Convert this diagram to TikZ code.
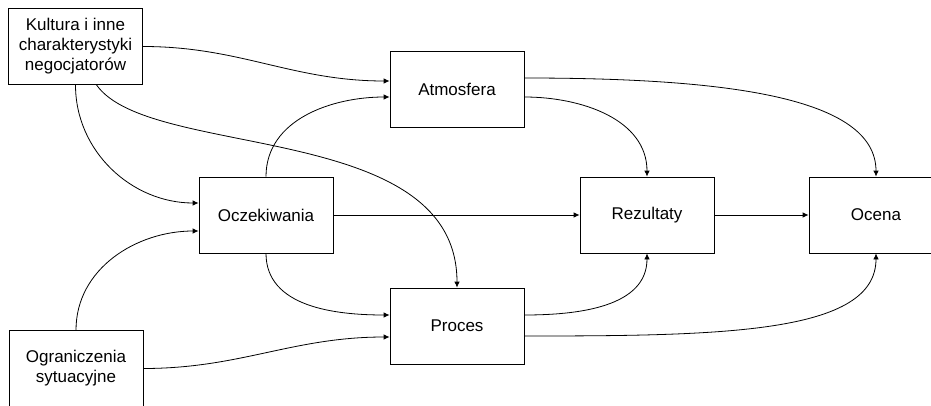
\documentclass[tikz,border=0pt]{standalone}
\usepackage{fontspec}
\setmainfont{Liberation Sans}
\usetikzlibrary{arrows.meta}

\begin{document}
\begin{tikzpicture}[x=1pt,y=1pt,>={Latex[length=6pt,width=5.5pt]},
    factor/.style={draw,line width=0.8pt,minimum width=134pt,minimum height=76pt,
      align=center,inner sep=2pt,font=\fontsize{17}{20}\selectfont},
    link/.style={->,line width=0.8pt}]
  \useasboundingbox (0,0) rectangle (931,405);
  % the seven factors
  \node[factor] (kult) at (75.5,358.5) {Kultura i inne\\charakterystyki\\negocjatorów};
  \node[factor] (ogr)  at (76,36.5)    {Ograniczenia\\sytuacyjne};
  \node[factor] (ocz)  at (266,190)    {Oczekiwania};
  \node[factor] (atm)  at (457,316)    {Atmosfera};
  \node[factor] (proc) at (457,79)     {Proces};
  \node[factor] (rez)  at (647,190)    {Rezultaty};
  \node[factor] (oc)   at (876,190)    {Ocena};
  % influences of the negotiators' culture
  \draw[link] (kult.east) to[out=0,in=180] ([yshift=8pt]atm.west);
  \draw[link] (kult.south) to[out=-90,in=180] ([yshift=12pt]ocz.west);
  \draw[link] ([xshift=21pt]kult.south) to[out=-55,in=90,out distance=92pt,in distance=168pt] (proc.north);
  % situational constraints
  \draw[link] (ogr.north) to[out=90,in=180] ([yshift=-16pt]ocz.west);
  \draw[link] (ogr.east) to[out=0,in=180] ([yshift=-11pt]proc.west);
  % expectations
  \draw[link] (ocz.north) to[out=90,in=180] ([yshift=-8pt]atm.west);
  \draw[link] (ocz.south) to[out=-90,in=180] ([yshift=11pt]proc.west);
  \draw[link] (ocz.east) -- (rez.west);
  % atmosphere and process lead to results and evaluation
  \draw[link] ([yshift=-8pt]atm.east) to[out=0,in=90] (rez.north);
  \draw[link] ([yshift=11pt]atm.east) to[out=0,in=90,out distance=200pt,in distance=80pt] (oc.north);
  \draw[link] ([yshift=11pt]proc.east) to[out=0,in=-90] (rez.south);
  \draw[link] ([yshift=-10pt]proc.east) to[out=0,in=-90,out distance=200pt,in distance=80pt] (oc.south);
  \draw[link] (rez.east) -- (oc.west);
\end{tikzpicture}
\end{document}
